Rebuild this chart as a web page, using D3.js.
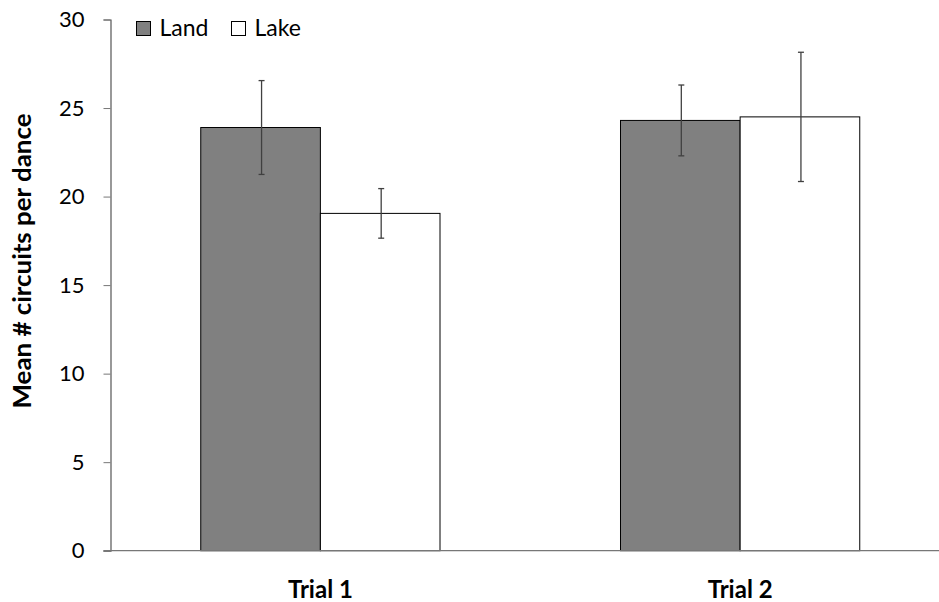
<!DOCTYPE html>
<html>
<head>
<meta charset="utf-8">
<script src="https://cdn.jsdelivr.net/npm/d3@7"></script>
<style>
  body { margin: 0; background: #fff; }
  svg text { font-family: Lato, "Open Sans", sans-serif; fill: #000; }
</style>
</head>
<body>
<svg width="939" height="602"></svg>
<script>
// chart data
var trials = ['Trial 1', 'Trial 2'];
var groups = ['Land', 'Lake'];
var landMean = [23.9, 24.3];
var lakeMean = [19.05, 24.5];
var landErr = [2.65, 2.0];
var lakeErr = [1.4, 3.65];
var yTicks = [0, 5, 10, 15, 20, 25, 30];

var svg = d3.select('svg'),
  plotLeft = 110.5, plotRight = 950, plotTop = 19.5, plotBottom = 550.7;

var x0 = d3.scaleBand().domain(trials).range([plotLeft, plotRight])
  .paddingInner(0.43).paddingOuter(0.215);
var x1 = d3.scaleBand().domain(groups).range([0, x0.bandwidth()]);
var y = d3.scaleLinear().domain([0, 30]).range([plotBottom, plotTop]);
var fill = { Land: '#808080', Lake: '#ffffff' };

var rows = [];
trials.forEach(function (t, i) {
  rows.push({ trial: t, group: 'Land', v: landMean[i], e: landErr[i] });
  rows.push({ trial: t, group: 'Lake', v: lakeMean[i], e: lakeErr[i] });
});

// bars
svg.selectAll('rect.bar').data(rows).enter().append('rect')
  .attr('class', 'bar')
  .attr('x', function (d) { return x0(d.trial) + x1(d.group); })
  .attr('y', function (d) { return y(d.v); })
  .attr('width', x1.bandwidth())
  .attr('height', function (d) { return y(0) - y(d.v); })
  .attr('fill', function (d) { return fill[d.group]; })
  .attr('stroke', '#000').attr('stroke-width', 1);

// y axis
var yAxis = svg.append('g').attr('transform', 'translate(' + plotLeft + ',0)')
  .call(d3.axisLeft(y).tickValues(yTicks).tickSize(7).tickPadding(19));
yAxis.select('.domain').attr('stroke', '#555').attr('stroke-width', 1.2);
yAxis.selectAll('.tick line').attr('stroke', '#777');
yAxis.selectAll('.tick text').style('font-size', '22px');

// x axis
var xAxis = svg.append('g').attr('transform', 'translate(0,' + plotBottom + ')')
  .call(d3.axisBottom(x0).tickSize(0).tickPadding(0));
xAxis.select('.domain').attr('stroke', '#777').attr('stroke-width', 1.2)
  .attr('d', 'M' + (plotLeft - 7) + ',0H939');
xAxis.selectAll('.tick text').attr('dy', null).attr('y', 47)
  .style('font-size', '24px').style('font-weight', 'bold');

// error bars
var eb = svg.selectAll('g.err').data(rows).enter().append('g')
  .attr('class', 'err')
  .attr('transform', function (d) {
    return 'translate(' + (x0(d.trial) + x1(d.group) + x1.bandwidth() / 2 + 1) + ',0)';
  })
  .attr('stroke', '#404040').attr('stroke-width', 1.3);
eb.append('line')
  .attr('y1', function (d) { return y(d.v + d.e); })
  .attr('y2', function (d) { return y(d.v - d.e); });
eb.append('line').attr('x1', -3).attr('x2', 3)
  .attr('y1', function (d) { return y(d.v + d.e); })
  .attr('y2', function (d) { return y(d.v + d.e); });
eb.append('line').attr('x1', -3).attr('x2', 3)
  .attr('y1', function (d) { return y(d.v - d.e); })
  .attr('y2', function (d) { return y(d.v - d.e); });

// y label
svg.append('text')
  .attr('transform', 'translate(31,261) rotate(-90)')
  .attr('text-anchor', 'middle')
  .attr('textLength', 295).attr('lengthAdjust', 'spacingAndGlyphs')
  .style('font-size', '25px').style('font-weight', 'bold')
  .text('Mean # circuits per dance');

// legend
var lg = svg.selectAll('g.lg').data(groups).enter().append('g')
  .attr('class', 'lg')
  .attr('transform', function (d, i) { return 'translate(' + (136.5 + i * 95) + ',21.5)'; });
lg.append('rect').attr('width', 14).attr('height', 14)
  .attr('fill', function (d) { return fill[d]; })
  .attr('stroke', '#000').attr('stroke-width', 1);
lg.append('text').attr('x', 23).attr('y', 14.5)
  .style('font-size', '23px').text(function (d) { return d; });
</script>
</body>
</html>
